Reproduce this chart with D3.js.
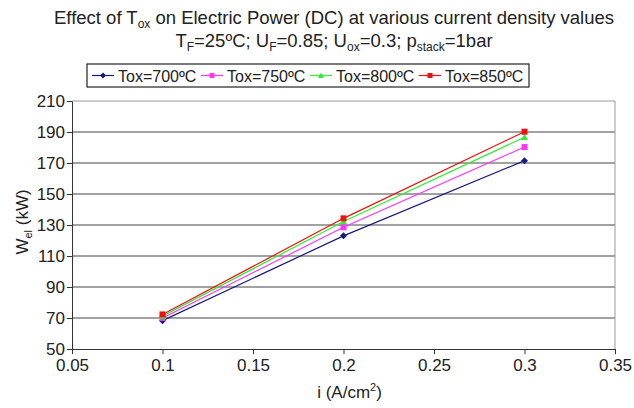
<!DOCTYPE html>
<html>
<head>
<meta charset="utf-8">
<script src="https://cdn.jsdelivr.net/npm/d3@7"></script>
<style>
  body { margin: 0; background: #fff; }
  svg text { font-family: "Liberation Sans", Arial, sans-serif; fill: #222; }
</style>
</head>
<body>
<div id="chart"></div>
<script>
// current density values (A/cm2)
const currentDensity = [0.1, 0.2, 0.3];

// electric power W_el (kW) for each oxidant temperature
const tox700 = [68.3, 123.0, 171.5];
const tox750 = [70.0, 128.5, 180.3];
const tox800 = [71.2, 132.3, 186.6];
const tox850 = [72.3, 134.3, 190.2];

const seriesNames = ['Tox=700ºC', 'Tox=750ºC', 'Tox=800ºC', 'Tox=850ºC'];
const xTicks = [0.05, 0.1, 0.15, 0.2, 0.25, 0.3, 0.35];
const yTicks = [50, 70, 90, 110, 130, 150, 170, 190, 210];

const series = [
    { name: seriesNames[0], values: tox700, color: '#1a1a7a', marker: 'diamond' },
    { name: seriesNames[1], values: tox750, color: '#ff33ff', marker: 'square' },
    { name: seriesNames[2], values: tox800, color: '#33ee33', marker: 'triangle' },
    { name: seriesNames[3], values: tox850, color: '#ee1111', marker: 'square' }
];

const W = 634, H = 408;
const margin = { top: 101, right: 19, bottom: 59, left: 72 };
const width = W - margin.left - margin.right;
const height = H - margin.top - margin.bottom;

const svg = d3.select('#chart').append('svg')
    .attr('width', W)
    .attr('height', H);

// text with sub/superscript parts
function addRich(parent, parts, attrs) {
    const t = parent.append('text');
    Object.entries(attrs).forEach(([k, v]) => t.attr(k, v));
    let sub = false;
    parts.forEach(p => {
        const isSub = p.sub === true;
        const ts = t.append('tspan').text(p.text);
        if (isSub && !sub) ts.attr('dy', p.shift);
        if (!isSub && sub) ts.attr('dy', -p.shift);
        if (isSub) ts.style('font-size', p.size);
        sub = isSub;
    });
    return t;
}

addRich(svg, [
    { text: 'Effect of T' },
    { text: 'ox', sub: true, shift: 4, size: '12px' },
    { text: ' on Electric Power (DC) at various current density values', shift: 4 }
], { x: 334, y: 24, 'text-anchor': 'middle', style: 'font-size:18.5px' });

addRich(svg, [
    { text: 'T' },
    { text: 'F', sub: true, shift: 4, size: '12px' },
    { text: '=25ºC; U', shift: 4 },
    { text: 'F', sub: true, shift: 4, size: '12px' },
    { text: '=0.85; U', shift: 4 },
    { text: 'ox', sub: true, shift: 4, size: '12px' },
    { text: '=0.3; p', shift: 4 },
    { text: 'stack', sub: true, shift: 4, size: '12px' },
    { text: '=1bar', shift: 4 }
], { x: 334, y: 47, 'text-anchor': 'middle', style: 'font-size:18.5px' });

const g = svg.append('g')
    .attr('transform', `translate(${margin.left},${margin.top})`);

const x = d3.scaleLinear().domain([0.05, 0.35]).range([0, width]);
const y = d3.scaleLinear().domain([50, 210]).range([height, 0]);

// horizontal grid lines
g.append('g')
    .selectAll('line')
    .data(yTicks.slice(1))
    .enter()
    .append('line')
    .attr('x1', 0)
    .attr('x2', width)
    .attr('y1', d => y(d))
    .attr('y2', d => y(d))
    .attr('stroke', d => d === 210 ? '#999' : '#444')
    .attr('stroke-width', 1);

// right border
g.append('line')
    .attr('x1', width).attr('x2', width)
    .attr('y1', 0).attr('y2', height)
    .attr('stroke', '#999');

// axes
const xAxis = g.append('g')
    .attr('transform', `translate(0,${height})`)
    .call(d3.axisBottom(x).tickValues(xTicks).tickSize(5).tickSizeOuter(0)
        .tickFormat(d => String(+d.toFixed(2))));
xAxis.selectAll('text').attr('y', 10).style('font-size', '17px');

const yAxis = g.append('g')
    .call(d3.axisLeft(y).tickValues(yTicks).tickSize(5).tickSizeOuter(0));
yAxis.selectAll('text').attr('x', -7).attr('dy', '0.3em').style('font-size', '17px');

g.selectAll('.domain, .tick line').attr('stroke', '#333');

// axis labels
addRich(svg, [
    { text: 'i (A/cm' },
    { text: '2', sub: true, shift: -7, size: '11px' },
    { text: ')', shift: -7 }
], { x: margin.left + width / 2 + 6, y: 398, 'text-anchor': 'middle', style: 'font-size:17px' });

addRich(svg, [
    { text: 'W' },
    { text: 'el', sub: true, shift: 4, size: '11px' },
    { text: ' (kW)', shift: 4 }
], { transform: `translate(28,${margin.top + height / 2 - 3}) rotate(-90)`, 'text-anchor': 'middle', style: 'font-size:17px' });

// markers
function drawMarker(sel, type, color, size) {
    if (type === 'diamond') {
        sel.append('path').attr('d', `M0,${-size}L${size},0L0,${size}L${-size},0Z`).attr('fill', color);
    } else if (type === 'triangle') {
        sel.append('path').attr('d', `M0,${-size}L${size},${size * 0.8}L${-size},${size * 0.8}Z`).attr('fill', color);
    } else {
        sel.append('rect').attr('x', -size + 0.5).attr('y', -size + 0.5)
            .attr('width', 2 * size - 1).attr('height', 2 * size - 1).attr('fill', color);
    }
}

const line = d3.line()
    .x((d, i) => x(currentDensity[i]))
    .y(d => y(d));

series.forEach(s => {
    g.append('path')
        .datum(s.values)
        .attr('fill', 'none')
        .attr('stroke', s.color)
        .attr('stroke-width', 1.2)
        .attr('d', line);
    s.values.forEach((v, i) => {
        const m = g.append('g').attr('transform', `translate(${x(currentDensity[i])},${y(v)})`);
        drawMarker(m, s.marker, s.color, 3.5);
    });
});

// legend
const legend = svg.append('g').attr('transform', 'translate(87,64)');
legend.append('rect')
    .attr('width', 442)
    .attr('height', 23)
    .attr('fill', '#fff')
    .attr('stroke', '#222')
    .attr('stroke-width', 1.2);

const legendX = [5, 114, 223, 332];
series.forEach((s, i) => {
    const item = legend.append('g').attr('transform', `translate(${legendX[i]},11.5)`);
    item.append('line').attr('x1', 0).attr('x2', 22).attr('stroke', s.color).attr('stroke-width', 1.2);
    const m = item.append('g').attr('transform', 'translate(11,0)');
    drawMarker(m, s.marker, s.color, 3);
    item.append('text')
        .attr('x', 26)
        .attr('y', 6)
        .style('font-size', '16px')
        .text(s.name);
});
</script>
</body>
</html>
